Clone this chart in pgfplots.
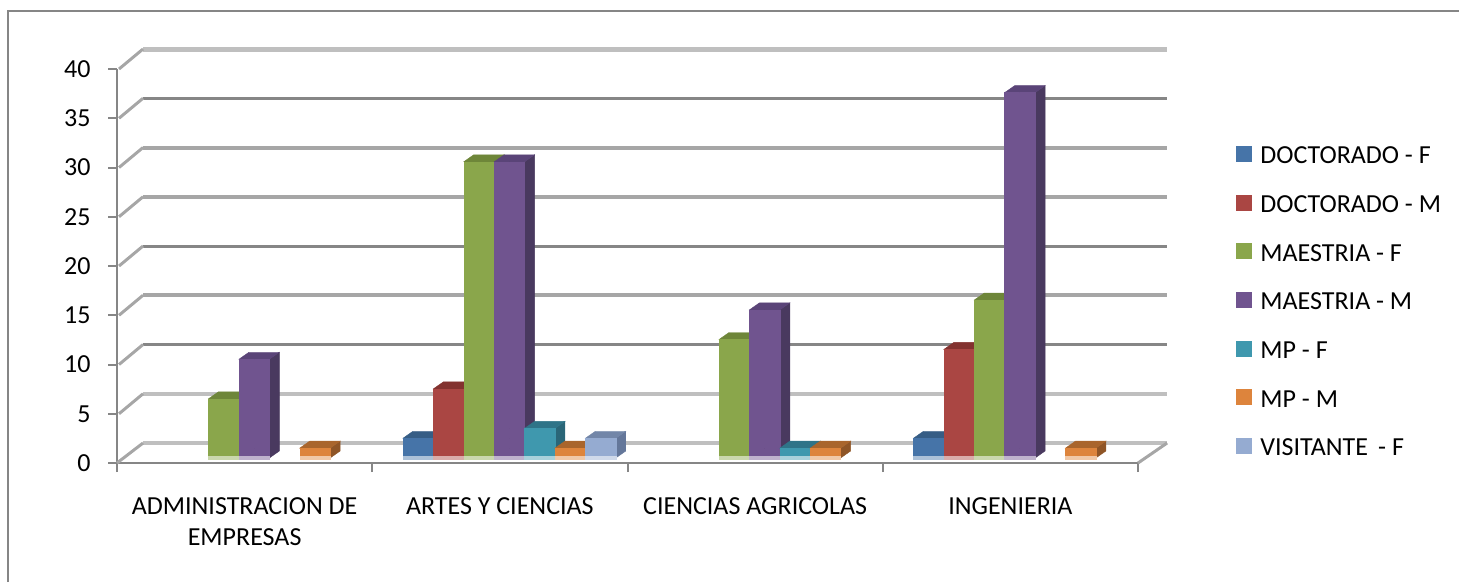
\documentclass[border=0pt]{standalone}
\usepackage{fontspec}
\setmainfont{Carlito}
\usepackage{pgfplots}
\usepackage{pgfplotstable}
\pgfplotsset{compat=1.18}

\definecolor{framegray}{HTML}{868686}
\definecolor{gridlight}{HTML}{BFBFBF}
\definecolor{gridmid}{HTML}{A6A6A6}
\definecolor{griddark}{HTML}{868686}

\definecolor{blueF}{HTML}{4674A8}\definecolor{blueT}{HTML}{365D85}\definecolor{blueS}{HTML}{2E5075}
\definecolor{redF}{HTML}{AA4643}\definecolor{redT}{HTML}{83322F}\definecolor{redS}{HTML}{702B28}
\definecolor{greenF}{HTML}{8AA64B}\definecolor{greenT}{HTML}{6E8639}\definecolor{greenS}{HTML}{5F7431}
\definecolor{purpleF}{HTML}{70548F}\definecolor{purpleT}{HTML}{5A4478}\definecolor{purpleS}{HTML}{49395F}
\definecolor{tealF}{HTML}{3F98AE}\definecolor{tealT}{HTML}{2F7488}\definecolor{tealS}{HTML}{2A6678}
\definecolor{orangeF}{HTML}{DD843C}\definecolor{orangeT}{HTML}{A9652C}\definecolor{orangeS}{HTML}{8F5526}
\definecolor{paleF}{HTML}{95ABD1}\definecolor{paleT}{HTML}{7286A8}\definecolor{paleS}{HTML}{64779A}

% group centre, value (empty bars are left out)
\pgfplotstableread{
x v
1.5 2
3.5 2
}\docF
\pgfplotstableread{
x v
1.5 7
3.5 11
}\docM
\pgfplotstableread{
x v
0.5 6
1.5 30
2.5 12
3.5 16
}\maeF
\pgfplotstableread{
x v
0.5 10
1.5 30
2.5 15
3.5 37
}\maeM
\pgfplotstableread{
x v
1.5 3
2.5 1
}\mpF
\pgfplotstableread{
x v
0.5 1
1.5 1
2.5 1
3.5 1
}\mpM
\pgfplotstableread{
x v
1.5 2
}\visF

% table, slot, colour name, legend text
% each bar is drawn at its data point: front, side, top and the pale foot
\newcommand{\barseries}[4]{
  \addplot[only marks, scatter, mark=*, mark size=0pt,
    legend image code/.code={\fill[#3F] (0pt,-4.5pt) rectangle (15pt,10.5pt);},
    visualization depends on={rawy \as \barv},
    scatter/@pre marker code/.code={
      \pgfmathsetmacro\barh{\barv*9.875}
      \pgfmathsetmacro\xl{(#2-3)*30.4-15.2}
      \pgfmathsetmacro\xr{(#2-3)*30.4+15.2}
      \pgfmathsetmacro\xlb{\xl+10}
      \pgfmathsetmacro\xrb{\xr+10}
      \pgfmathsetmacro\yb{7-\barh}
      \pgfmathsetmacro\yl{-\barh-1}
      \pgfmathsetmacro\yh{-\barh+2}
      \pgfmathsetmacro\ybot{-\barh}
      \fill[#3S] (\xr pt,0pt) -- (\xrb pt,7pt) -- (\xrb pt,\yb pt) -- (\xr pt,\ybot pt) -- cycle;
      \fill[#3T] (\xl pt,0pt) -- (\xlb pt,7pt) -- (\xrb pt,7pt) -- (\xr pt,0pt) -- cycle;
      \fill[#3F] (\xl pt,0pt) rectangle (\xr pt,\ybot pt);
      \fill[#3F!45!white] (\xl pt,\yl pt) rectangle (\xr pt,\yh pt);
    },
    scatter/@post marker code/.code={}]
    table[x=x,y=v] {#1};
  \addlegendentry{#4}
}

\begin{document}
\begin{tikzpicture}[x=1pt,y=1pt,font=\fontsize{26}{30}\selectfont]
\path[use as bounding box] (0,0) rectangle (1459,582);
\draw[framegray,line width=2.5pt] (8,0) -- (8,571) -- (1459,571);

% back wall
\begin{axis}[
  at={(143pt,139pt)}, anchor=south west,
  scale only axis, width=1024pt, height=394pt,
  xmin=0, xmax=4, ymin=0, ymax=40,
  hide axis, clip=false,
]
\addplot[gridlight, line width=5pt] coordinates {(0,40) (4,40)};
\addplot[griddark, line width=3pt] coordinates {(0,35) (4,35)};
\addplot[gridmid, line width=4pt] coordinates {(0,30) (4,30)};
\addplot[gridmid, line width=4pt] coordinates {(0,25) (4,25)};
\addplot[griddark, line width=3pt] coordinates {(0,20) (4,20)};
\addplot[gridmid, line width=4pt] coordinates {(0,15) (4,15)};
\addplot[griddark, line width=3pt] coordinates {(0,10) (4,10)};
\addplot[gridlight, line width=4.5pt] coordinates {(0,5) (4,5)};
\addplot[gridlight, line width=4.5pt] coordinates {(0,0) (4,0)};
\end{axis}

% front axis with the ticks and labels
\begin{axis}[
  at={(117pt,119pt)}, anchor=south west,
  scale only axis, width=1021pt, height=394pt,
  xmin=0, xmax=4, ymin=0, ymax=40,
  clip=false,
  axis x line*=bottom, axis y line*=left,
  axis line style={framegray,line width=2.5pt,-},
  tick style={framegray,line width=2pt},
  tick align=outside, major tick length=9pt,
  xtick={0,1,2,3,4}, xticklabels={},
  ytick={0,5,...,40},
  /pgf/number format/assume math mode=true,
  ticklabel style={font=\fontsize{26}{30}\selectfont},
  yticklabel style={xshift=-14pt},
  extra x ticks={0.5,1.5,2.5,3.5},
  extra x tick labels={{ADMINISTRACION DE\\EMPRESAS},{ARTES Y CIENCIAS},{CIENCIAS AGRICOLAS},{INGENIERIA}},
  extra x tick style={major tick length=0pt,
    xticklabel style={align=center,yshift=-31pt,font=\fontsize{26}{31}\selectfont}},
  unbounded coords=jump,
]
\addplot[gridmid, line width=3pt] coordinates {
  (0.008,40) (0.102,42.03) (nan,nan)
  (0.008,35) (0.102,37.03) (nan,nan)
  (0.008,30) (0.102,32.03) (nan,nan)
  (0.008,25) (0.102,27.03) (nan,nan)
  (0.008,20) (0.102,22.03) (nan,nan)
  (0.008,15) (0.102,17.03) (nan,nan)
  (0.008,10) (0.102,12.03) (nan,nan)
  (0.008,5) (0.102,7.03) (nan,nan)
  (0,0) (0.102,2.03) (nan,nan)
  (4,0) (4.114,2.03)
};
\end{axis}

% bars
\begin{axis}[
  at={(126.5pt,124pt)}, anchor=south west,
  scale only axis, width=1021pt, height=395pt,
  xmin=0, xmax=4, ymin=0, ymax=40,
  hide axis, clip=false,
  legend cell align=left,
  legend style={at={(rel axis cs:1.0867,0.79)}, anchor=north west, draw=none, fill=none,
    inner sep=0pt, outer sep=0pt, row sep=28pt,
    font=\fontsize{26}{30}\selectfont,
    nodes={inner sep=0pt,text height=17pt,text depth=3pt},
    /tikz/column 1/.style={column sep=9pt}},
]
\barseries{\docF}{0}{blue}{DOCTORADO -~F}
\barseries{\docM}{1}{red}{DOCTORADO -~M}
\barseries{\maeF}{2}{green}{MAESTRIA -~F}
\barseries{\maeM}{3}{purple}{MAESTRIA -~M}
\barseries{\mpF}{4}{teal}{MP -~F}
\barseries{\mpM}{5}{orange}{MP -~M}
\barseries{\visF}{6}{pale}{VISITANTE\,\ -~F}
\end{axis}
\end{tikzpicture}
\end{document}
